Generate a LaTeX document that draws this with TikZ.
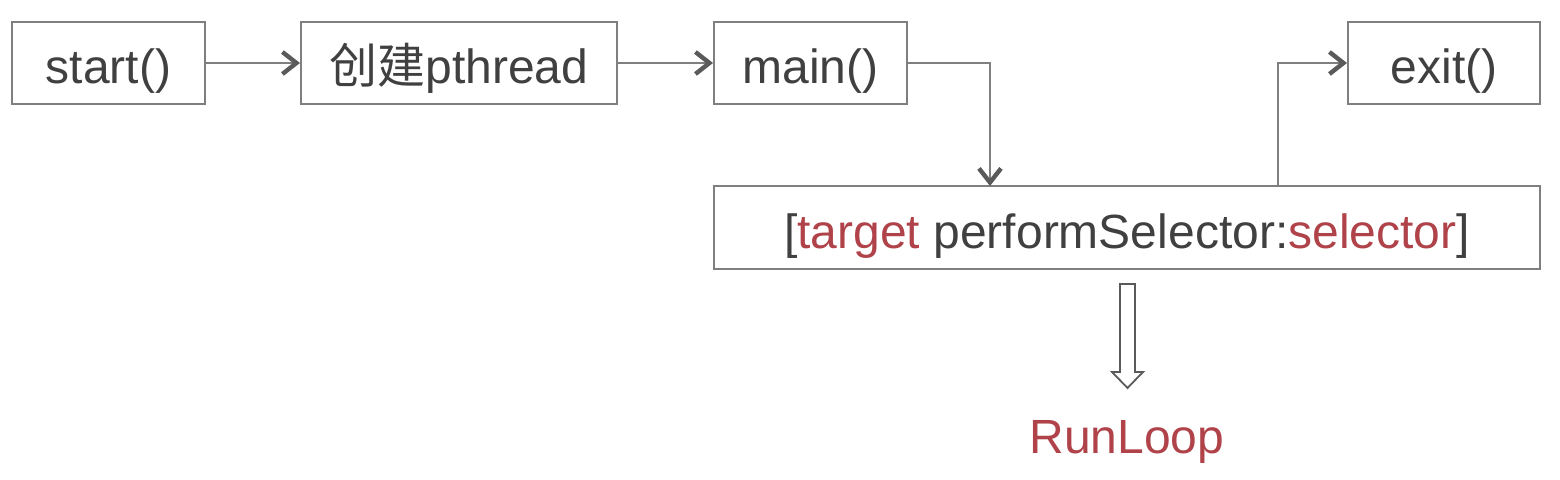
\documentclass[tikz,border=0pt]{standalone}
\usepackage{fontspec}
\setmainfont{Liberation Sans}
\newfontfamily\cjk{Noto Sans CJK SC}
\usetikzlibrary{arrows.meta,shapes.arrows}
\definecolor{txt}{HTML}{404040}
\definecolor{ln}{HTML}{7F7F7F}
\definecolor{hd}{HTML}{5A5A5A}
\definecolor{rd}{HTML}{B0434A}
\tikzset{
  box/.style={draw=ln, line width=1pt, fill=white, text=txt, font=\fontsize{24}{28}\selectfont, inner sep=0pt, text height=21pt, text depth=0pt},
  conn/.style={draw=ln, line width=1pt, -{Straight Barb[length=7pt,width=11pt,line width=2.2pt,color=hd]}},
}
\begin{document}
\begin{tikzpicture}[x=0.5pt,y=-0.5pt]
\useasboundingbox (0,0) rectangle (1560,480);
\node[box, minimum width=96.5pt, minimum height=41pt] (start) at (108.5,63) {start()};
\node[box, minimum width=158pt, minimum height=41pt] (pth) at (459,63) {{\cjk 创建}pthread};
\node[box, minimum width=96.5pt, minimum height=41pt] (main) at (810.5,63) {main()};
\node[box, minimum width=96pt, minimum height=41pt] (exit) at (1444,63) {exit()};
\node[box, minimum width=413pt, minimum height=41.5pt] (sel) at (1127,227.5) {[\textcolor{rd}{target} performSelector:\textcolor{rd}{selector}]};
\draw[conn] (start.east) -- (pth.west);
\draw[conn] (pth.east) -- (main.west);
\coordinate (c1) at (990,63);
\coordinate (d1) at (990,186);
\draw[conn] (main.east) -- (c1) -- (d1);
\coordinate (u1) at (1278,186);
\coordinate (u2) at (1278,63);
\draw[conn] (u1) -- (u2) -- (exit.west);
\draw[draw=hd, line width=0.9pt, fill=white] (1120,284) -- (1135,284) -- (1135,372) -- (1143,372) -- (1127.5,388) -- (1112,372) -- (1120,372) -- cycle;
\node[text=rd, font=\fontsize{24}{28}\selectfont, inner sep=0pt, anchor=base] (rl) at (1127,454) {RunLoop};
\end{tikzpicture}
\end{document}
